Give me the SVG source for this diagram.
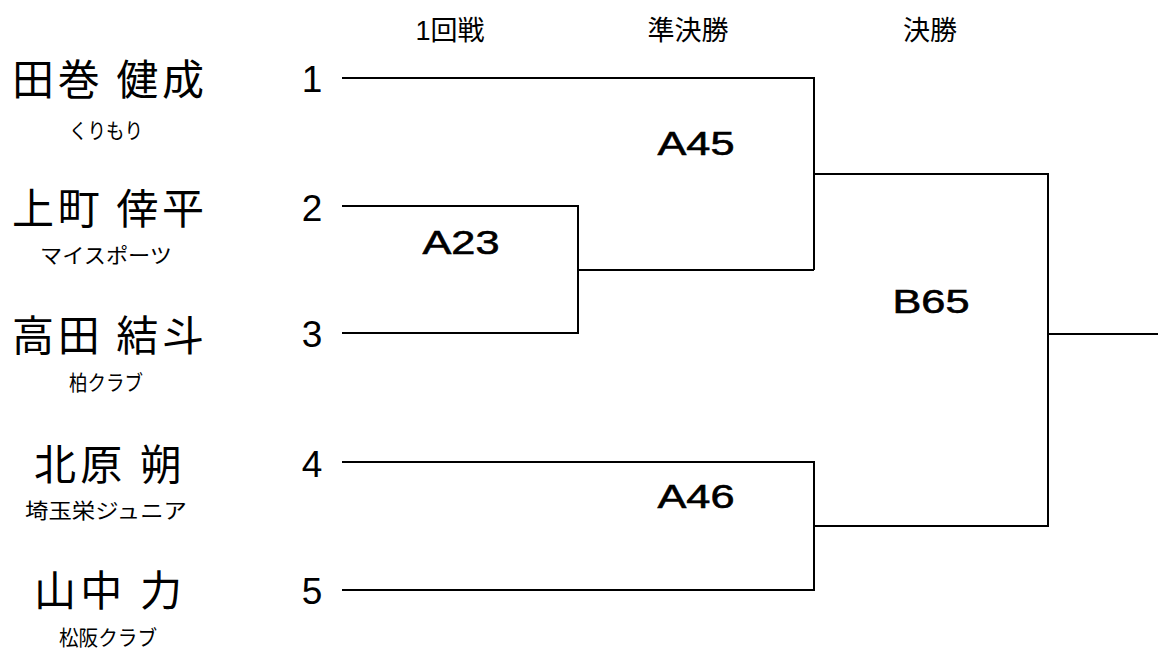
<svg xmlns="http://www.w3.org/2000/svg" width="1158" height="655" viewBox="0 0 1158 655">
<style>
.hdr{font-family:"Liberation Sans","Noto Sans CJK JP",sans-serif;font-size:27px;fill:#000;text-anchor:middle}
.name{font-family:"Noto Sans CJK JP",sans-serif;font-size:42px;fill:#000;text-anchor:middle}
.club{font-family:"Noto Sans CJK JP",sans-serif;font-size:21px;fill:#000;text-anchor:middle}
.num{font-family:"Liberation Sans",sans-serif;font-size:37px;fill:#000;text-anchor:middle}
.code{font-family:"Liberation Sans",sans-serif;font-size:33px;fill:#000;stroke:#000;stroke-width:0.6;text-anchor:middle}
.ln{fill:none;stroke:#000;stroke-width:2}
</style>
<rect width="1158" height="655" fill="#fff"/>
<g id="headers">
<text class="hdr" x="450" y="40">1回戦</text>
<text class="hdr" x="688" y="40">準決勝</text>
<text class="hdr" x="930" y="40">決勝</text>
</g>
<g id="p1">
<text class="name" x="108" y="95" textLength="192" lengthAdjust="spacing">田巻 健成</text>
<text class="club" x="106" y="138" textLength="74" lengthAdjust="spacingAndGlyphs">くりもり</text>
<text class="num" x="312" y="92">1</text>
</g>
<g id="p2">
<text class="name" x="108" y="224" textLength="192" lengthAdjust="spacing">上町 倖平</text>
<text class="club" x="106" y="263" textLength="132" lengthAdjust="spacingAndGlyphs">マイスポーツ</text>
<text class="num" x="312" y="221">2</text>
</g>
<g id="p3">
<text class="name" x="108" y="351" textLength="192" lengthAdjust="spacing">高田 結斗</text>
<text class="club" x="106" y="390" textLength="74" lengthAdjust="spacingAndGlyphs">柏クラブ</text>
<text class="num" x="312" y="347">3</text>
</g>
<g id="p4">
<text class="name" x="108" y="480" textLength="148" lengthAdjust="spacing">北原 朔</text>
<text class="club" x="106" y="518" textLength="162" lengthAdjust="spacingAndGlyphs">埼玉栄ジュニア</text>
<text class="num" x="312" y="477">4</text>
</g>
<g id="p5">
<text class="name" x="108" y="606" textLength="148" lengthAdjust="spacing">山中 力</text>
<text class="club" x="108" y="645" textLength="98" lengthAdjust="spacingAndGlyphs">松阪クラブ</text>
<text class="num" x="312" y="604">5</text>
</g>
<g id="connectors">
<path class="ln" d="M342 78H814V270M342 206H578V333H342M578 270H814M342 462H814V590H342M814 526H1048V174H814M1048 334H1158"/>
</g>
<g id="matches">
<text class="code" x="461" y="254" textLength="77" lengthAdjust="spacingAndGlyphs">A23</text>
<text class="code" x="696" y="155" textLength="77" lengthAdjust="spacingAndGlyphs">A45</text>
<text class="code" x="696" y="508" textLength="77" lengthAdjust="spacingAndGlyphs">A46</text>
<text class="code" x="931" y="313" textLength="77" lengthAdjust="spacingAndGlyphs">B65</text>
</g>
</svg>
